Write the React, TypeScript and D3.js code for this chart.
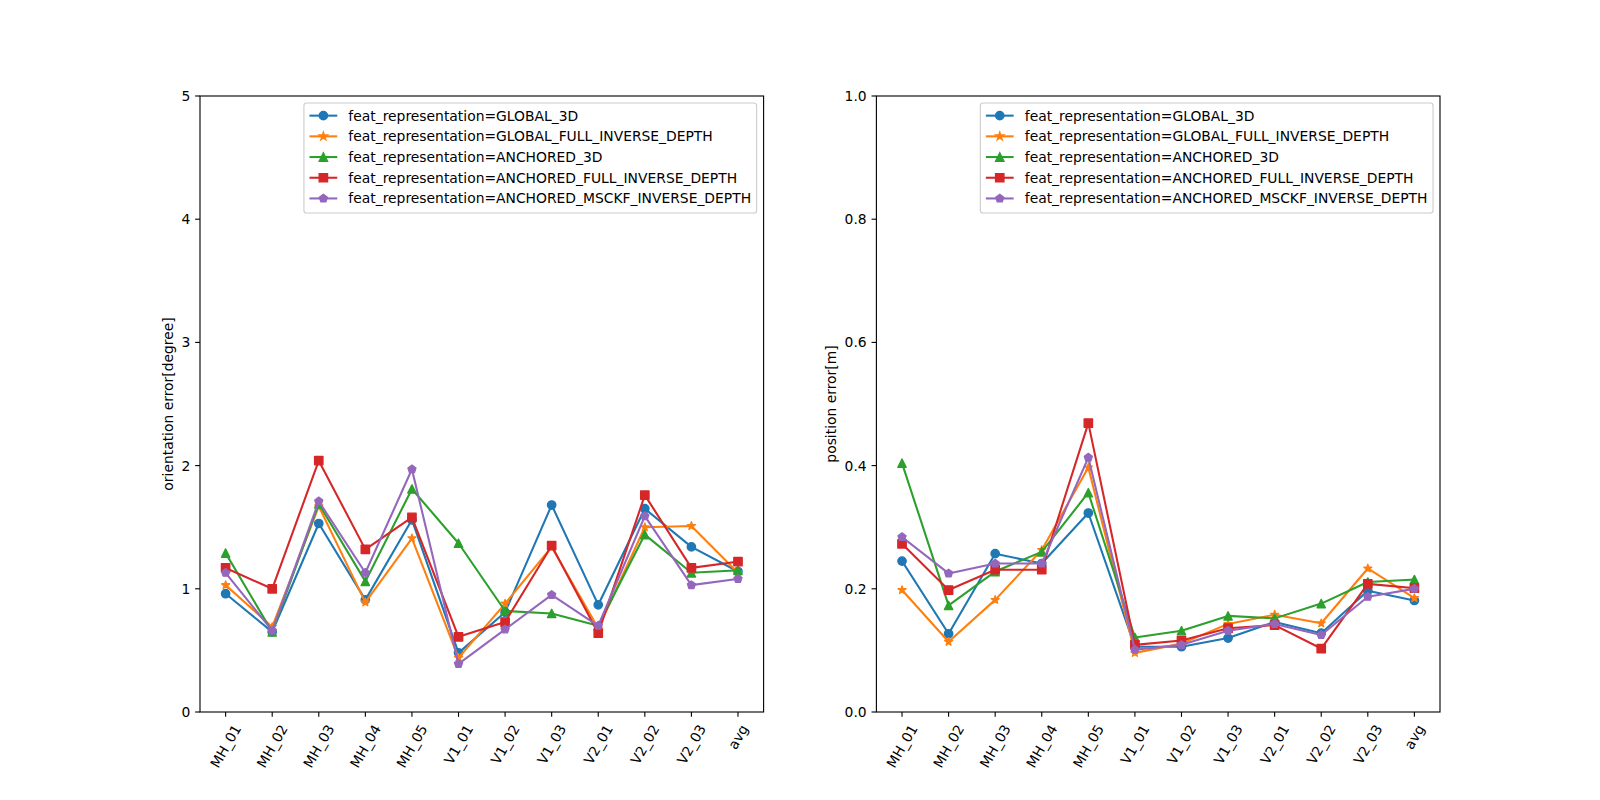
import React, { useEffect, useRef } from "react";
import * as d3 from "d3";

const categories = ["MH_01", "MH_02", "MH_03", "MH_04", "MH_05", "V1_01", "V1_02", "V1_03", "V2_01", "V2_02", "V2_03", "avg"];
const seriesNames = [
  "feat_representation=GLOBAL_3D",
  "feat_representation=GLOBAL_FULL_INVERSE_DEPTH",
  "feat_representation=ANCHORED_3D",
  "feat_representation=ANCHORED_FULL_INVERSE_DEPTH",
  "feat_representation=ANCHORED_MSCKF_INVERSE_DEPTH",
];
const colors = ["#1f77b4", "#ff7f0e", "#2ca02c", "#d62728", "#9467bd"];
const markers = ["circle", "star", "triangle", "square", "pentagon"];

const oriGlobal3D = [0.96, 0.65, 1.53, 0.91, 1.56, 0.48, 0.81, 1.68, 0.87, 1.65, 1.34, 1.14];
const oriGlobalFull = [1.03, 0.69, 1.67, 0.89, 1.41, 0.44, 0.88, 1.34, 0.68, 1.5, 1.51, 1.13];
const oriAnchored3D = [1.29, 0.65, 1.69, 1.06, 1.81, 1.37, 0.82, 0.8, 0.7, 1.44, 1.13, 1.15];
const oriAnchoredFull = [1.17, 1.0, 2.04, 1.32, 1.58, 0.61, 0.73, 1.35, 0.64, 1.76, 1.17, 1.22];
const oriAnchoredMsckf = [1.13, 0.66, 1.71, 1.13, 1.97, 0.39, 0.67, 0.95, 0.7, 1.59, 1.03, 1.08];

const posGlobal3D = [0.245, 0.127, 0.257, 0.241, 0.323, 0.106, 0.106, 0.12, 0.146, 0.128, 0.197, 0.181];
const posGlobalFull = [0.198, 0.114, 0.182, 0.263, 0.397, 0.096, 0.111, 0.143, 0.158, 0.144, 0.233, 0.185];
const posAnchored3D = [0.404, 0.173, 0.228, 0.26, 0.356, 0.121, 0.132, 0.156, 0.152, 0.176, 0.211, 0.215];
const posAnchoredFull = [0.273, 0.198, 0.231, 0.231, 0.469, 0.109, 0.116, 0.136, 0.141, 0.103, 0.208, 0.201];
const posAnchoredMsckf = [0.284, 0.225, 0.241, 0.241, 0.413, 0.101, 0.109, 0.132, 0.143, 0.125, 0.187, 0.2];

const oriTicks = [0, 1, 2, 3, 4, 5];
const posTicks = [0, 0.2, 0.4, 0.6, 0.8, 1.0];

const FONT = "DejaVu Sans";
const FS = 13.89;
const MS = 8.33;

function markerPath(kind: string, s: number): string {
  const r = s / 2;
  if (kind === "circle") {
    return `M${r},0A${r},${r} 0 1,1 ${-r},0A${r},${r} 0 1,1 ${r},0Z`;
  }
  if (kind === "square") {
    return `M${-r},${-r}H${r}V${r}H${-r}Z`;
  }
  if (kind === "triangle") {
    return `M0,${-r}L${-r},${r}L${r},${r}Z`;
  }
  if (kind === "pentagon") {
    const pts: string[] = [];
    for (let i = 0; i < 5; i++) {
      const a = -Math.PI / 2 + (i * 2 * Math.PI) / 5;
      pts.push(`${r * Math.cos(a)},${r * Math.sin(a)}`);
    }
    return "M" + pts.join("L") + "Z";
  }
  // star
  const pts: string[] = [];
  const inner = r * 0.381966;
  for (let i = 0; i < 10; i++) {
    const a = -Math.PI / 2 + (i * Math.PI) / 5;
    const rr = i % 2 === 0 ? r : inner;
    pts.push(`${rr * Math.cos(a)},${rr * Math.sin(a)}`);
  }
  return "M" + pts.join("L") + "Z";
}

export default function App() {
  const ref = useRef<SVGSVGElement | null>(null);

  useEffect(() => {
    document.body.style.margin = "0";
    const svg = d3.select(ref.current);
    svg.selectAll("*").remove();

    const panels = [
      {
        left: 200,
        right: 763.6,
        domain: [0, 5],
        ticks: oriTicks,
        fmt: (v: number) => d3.format("d")(v),
        label: "orientation error[degree]",
        data: [oriGlobal3D, oriGlobalFull, oriAnchored3D, oriAnchoredFull, oriAnchoredMsckf],
      },
      {
        left: 876.4,
        right: 1440,
        domain: [0, 1],
        ticks: posTicks,
        fmt: (v: number) => d3.format(".1f")(v),
        label: "position error[m]",
        data: [posGlobal3D, posGlobalFull, posAnchored3D, posAnchoredFull, posAnchoredMsckf],
      },
    ];
    const top = 96;
    const bottom = 712;
    const tickLen = 4.86;
    const pad = 4.86;

    panels.forEach((p) => {
      const g = svg.append("g");
      const x = d3.scaleLinear().domain([-0.55, categories.length - 1 + 0.55]).range([p.left, p.right]);
      const y = d3.scaleLinear().domain(p.domain).range([bottom, top]);

      // lines & markers
      p.data.forEach((vals, si) => {
        const line = d3
          .line<number>()
          .x((_, i) => x(i))
          .y((d) => y(d));
        g.append("path")
          .attr("d", line(vals) as string)
          .attr("fill", "none")
          .attr("stroke", colors[si])
          .attr("stroke-width", 2.08)
          .attr("stroke-linejoin", "round")
          .attr("stroke-linecap", "square");
        const mp = markerPath(markers[si], MS);
        g.selectAll(null)
          .data(vals)
          .enter()
          .append("path")
          .attr("d", mp)
          .attr("transform", (d, i) => `translate(${x(i)},${y(d)})`)
          .attr("fill", colors[si])
          .attr("stroke", colors[si])
          .attr("stroke-width", 1.39)
          .attr("stroke-linejoin", "round");
      });

      // spines
      g.append("rect")
        .attr("x", p.left)
        .attr("y", top)
        .attr("width", p.right - p.left)
        .attr("height", bottom - top)
        .attr("fill", "none")
        .attr("stroke", "#000")
        .attr("stroke-width", 1.11);

      // y ticks
      let maxTickW = 0;
      p.ticks.forEach((t) => {
        g.append("line")
          .attr("x1", p.left)
          .attr("x2", p.left - tickLen)
          .attr("y1", y(t))
          .attr("y2", y(t))
          .attr("stroke", "#000")
          .attr("stroke-width", 1.11);
        const tx = g
          .append("text")
          .attr("x", p.left - tickLen - pad)
          .attr("y", y(t))
          .attr("text-anchor", "end")
          .attr("dominant-baseline", "central")
          .attr("font-family", FONT)
          .attr("font-size", FS)
          .text(p.fmt(t));
        const w = (tx.node() as SVGTextElement).getComputedTextLength();
        maxTickW = Math.max(maxTickW, w);
      });

      // y label
      const lx = p.left - tickLen - pad - maxTickW - 5.56 - 3.3;
      g.append("text")
        .attr("transform", `translate(${lx},${(top + bottom) / 2}) rotate(-90)`)
        .attr("text-anchor", "middle")
        .attr("font-family", FONT)
        .attr("font-size", FS)
        .text(p.label);

      // x ticks
      categories.forEach((c, i) => {
        const xv = x(i);
        g.append("line")
          .attr("x1", xv)
          .attr("x2", xv)
          .attr("y1", bottom)
          .attr("y2", bottom + tickLen)
          .attr("stroke", "#000")
          .attr("stroke-width", 1.11);
        const t = g
          .append("text")
          .attr("text-anchor", "middle")
          .attr("dominant-baseline", "central")
          .attr("font-family", FONT)
          .attr("font-size", FS)
          .text(c);
        const w = (t.node() as SVGTextElement).getComputedTextLength();
        const h = FS * 1.17;
        const a = (60 * Math.PI) / 180;
        const H = w * Math.sin(a) + h * Math.cos(a);
        const cy = bottom + tickLen + pad + H / 2;
        t.attr("transform", `translate(${xv},${cy}) rotate(-60)`);
      });

      // legend
      const lg = g.append("g");
      const borderPad = 0.4 * FS;
      const handleLen = 2 * FS;
      const textPad = 0.8 * FS;
      const rowH = 20.7;
      const texts: number[] = [];
      const tmp = lg.append("g");
      seriesNames.forEach((n) => {
        const t = tmp.append("text").attr("font-family", FONT).attr("font-size", FS).text(n);
        texts.push((t.node() as SVGTextElement).getComputedTextLength());
      });
      tmp.remove();
      const maxW = d3.max(texts) as number;
      const boxW = 2 * borderPad + handleLen + textPad + maxW;
      const boxRight = p.right - 0.5 * FS;
      const boxLeft = boxRight - boxW;
      const boxTop = top + 0.5 * FS;
      const boxH = 110;
      lg.append("rect")
        .attr("x", boxLeft)
        .attr("y", boxTop)
        .attr("width", boxW)
        .attr("height", boxH)
        .attr("rx", 2.8)
        .attr("fill", "#fff")
        .attr("fill-opacity", 0.8)
        .attr("stroke", "#cccccc")
        .attr("stroke-width", 1.11);
      seriesNames.forEach((n, si) => {
        const cy = boxTop + 12.7 + si * rowH;
        const hx0 = boxLeft + borderPad;
        lg.append("line")
          .attr("x1", hx0)
          .attr("x2", hx0 + handleLen)
          .attr("y1", cy)
          .attr("y2", cy)
          .attr("stroke", colors[si])
          .attr("stroke-width", 2.08);
        lg.append("path")
          .attr("d", markerPath(markers[si], MS))
          .attr("transform", `translate(${hx0 + handleLen / 2},${cy})`)
          .attr("fill", colors[si])
          .attr("stroke", colors[si])
          .attr("stroke-width", 1.39);
        lg.append("text")
          .attr("x", hx0 + handleLen + textPad)
          .attr("y", cy)
          .attr("dominant-baseline", "central")
          .attr("font-family", FONT)
          .attr("font-size", FS)
          .text(n);
      });
    });
  }, []);

  return <svg ref={ref} width={1600} height={800} style={{ display: "block", background: "#fff" }} />;
}
